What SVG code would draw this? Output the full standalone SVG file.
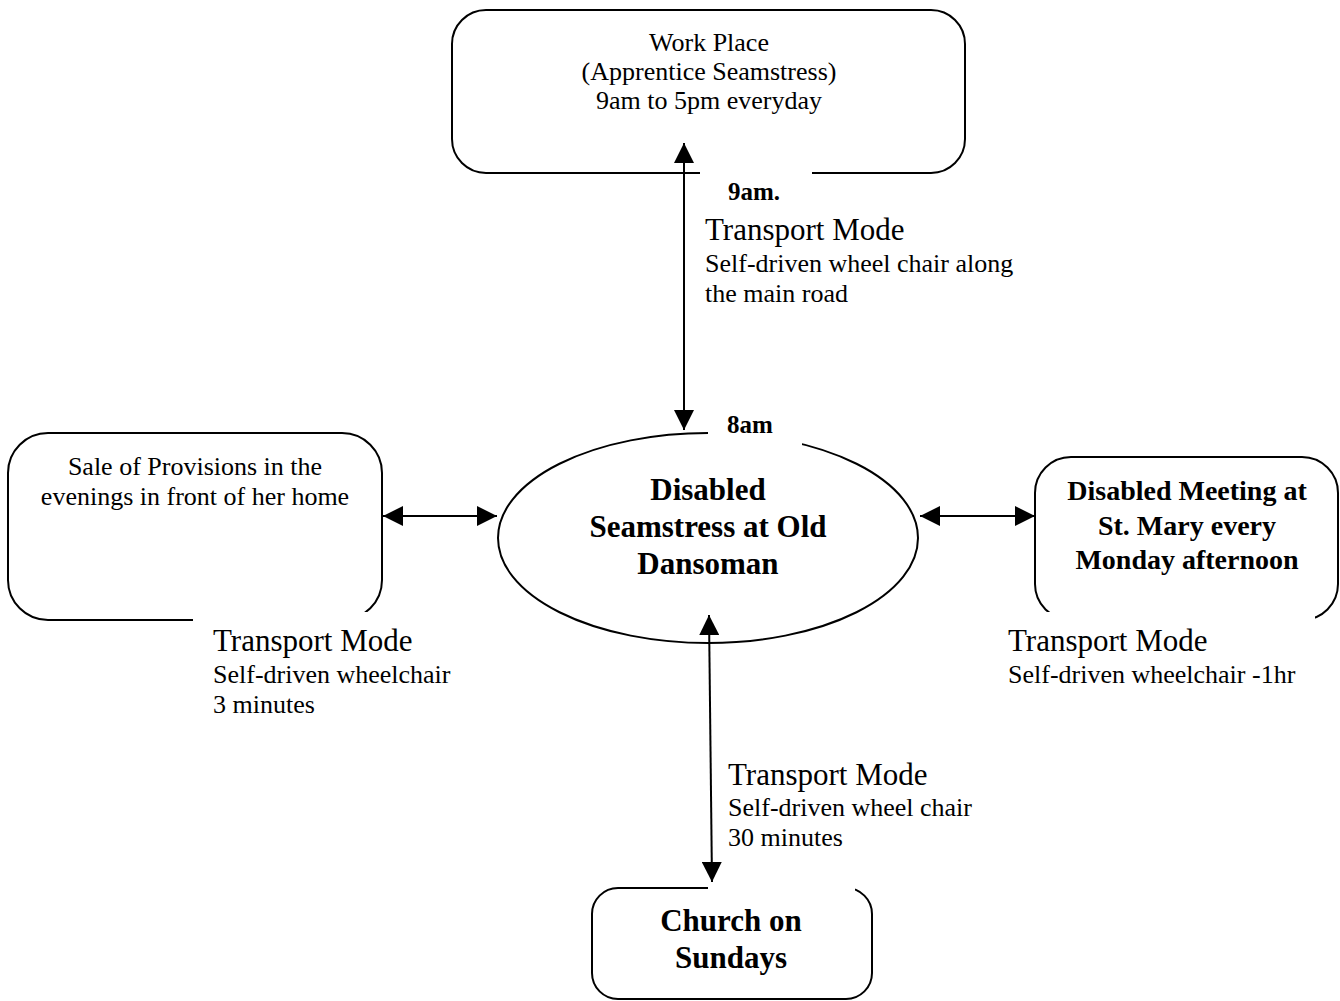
<svg xmlns="http://www.w3.org/2000/svg" width="1340" height="1001" viewBox="0 0 1340 1001">
  <style>
    .shape { fill: #ffffff; stroke: #000000; stroke-width: 2; }
    .mask { fill: #ffffff; stroke: none; }
    .link { stroke: #000000; stroke-width: 2; fill: none; marker-start: url(#head); marker-end: url(#head); }
    text { font-family: "Liberation Serif", "Times New Roman", serif; fill: #000000; }
    .box { font-size: 26px; text-anchor: middle; }
    .boxb { font-size: 28px; font-weight: bold; text-anchor: middle; }
    .big { font-size: 31px; font-weight: bold; text-anchor: middle; }
    .time { font-size: 25px; font-weight: bold; }
    .mode { font-size: 31px; }
    .detail { font-size: 26px; }
  </style>
  <defs>
    <marker id="head" viewBox="0 0 20 20" refX="20" refY="10" markerWidth="20" markerHeight="20" markerUnits="userSpaceOnUse" orient="auto-start-reverse">
      <path d="M0,0 L20,10 L0,20 Z" fill="#000000"/>
    </marker>
  </defs>
  <rect width="1340" height="1001" fill="#ffffff"/>

  <!-- Nodes -->
  <g id="work-place">
    <rect class="shape" x="452" y="10" width="513" height="163" rx="34" ry="34"/>
    <text class="box" x="709" y="51">Work Place</text>
    <text class="box" x="709" y="80">(Apprentice Seamstress)</text>
    <text class="box" x="709" y="109">9am to 5pm everyday</text>
  </g>
  <g id="sale-of-provisions">
    <rect class="shape" x="8" y="433" width="374" height="187" rx="40" ry="40"/>
    <text class="box" x="195" y="475">Sale of Provisions in the</text>
    <text class="box" x="195" y="505">evenings in front of her home</text>
  </g>
  <g id="seamstress">
    <ellipse class="shape" cx="708" cy="538" rx="210" ry="105"/>
    <text class="big" x="708" y="500">Disabled</text>
    <text class="big" x="708" y="537">Seamstress at Old</text>
    <text class="big" x="708" y="574">Dansoman</text>
  </g>
  <g id="disabled-meeting">
    <rect class="shape" x="1035" y="457" width="303" height="163" rx="36" ry="36"/>
    <text class="boxb" x="1187" y="500">Disabled Meeting at</text>
    <text class="boxb" x="1187" y="535">St. Mary every</text>
    <text class="boxb" x="1187" y="569">Monday afternoon</text>
  </g>
  <g id="church">
    <rect class="shape" x="592" y="888" width="280" height="111" rx="26" ry="26"/>
    <text class="big" x="731" y="931">Church on</text>
    <text class="big" x="731" y="968">Sundays</text>
  </g>

  <!-- Label backgrounds (they sit over the shape outlines) -->
  <g id="label-backgrounds">
    <rect class="mask" x="700" y="170" width="112" height="40"/>
    <rect class="mask" x="708" y="406" width="94" height="40"/>
    <rect class="mask" x="193" y="612" width="290" height="112"/>
    <rect class="mask" x="1000" y="612" width="315" height="84"/>
    <rect class="mask" x="708" y="755" width="147" height="136"/>
  </g>

  <!-- Connectors -->
  <g id="connectors">
    <line class="link" x1="684" y1="430" x2="684" y2="143"/>
    <line class="link" x1="497" y1="516" x2="383" y2="516"/>
    <line class="link" x1="920" y1="516" x2="1035" y2="516"/>
    <line class="link" x1="709" y1="615" x2="712" y2="882"/>
  </g>

  <!-- Connector labels -->
  <g id="labels">
    <text class="time" x="728" y="200">9am.</text>
    <text class="mode" x="705" y="240">Transport Mode</text>
    <text class="detail" x="705" y="272">Self-driven wheel chair along</text>
    <text class="detail" x="705" y="302">the main road</text>

    <text class="time" x="727" y="433">8am</text>

    <text class="mode" x="213" y="651">Transport Mode</text>
    <text class="detail" x="213" y="683">Self-driven wheelchair</text>
    <text class="detail" x="213" y="713">3 minutes</text>

    <text class="mode" x="1008" y="651">Transport Mode</text>
    <text class="detail" x="1008" y="683">Self-driven wheelchair -1hr</text>

    <text class="mode" x="728" y="785">Transport Mode</text>
    <text class="detail" x="728" y="816">Self-driven wheel chair</text>
    <text class="detail" x="728" y="846">30 minutes</text>
  </g>
</svg>
